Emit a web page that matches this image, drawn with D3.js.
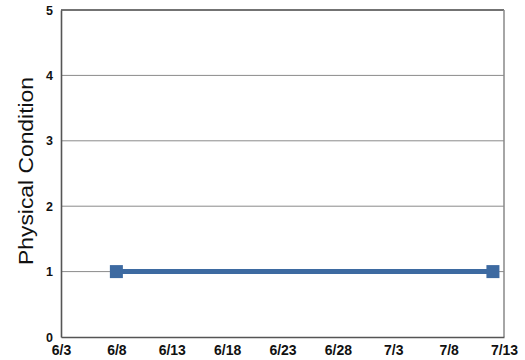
<!DOCTYPE html>
<html><head><meta charset="utf-8">
<script src="https://cdn.jsdelivr.net/npm/d3@7"></script>
<style>body{margin:0;background:#fff;}svg{display:block;}</style>
</head><body>
<script>
const dates = ["6/8", "7/12"];
const values = [1, 1];
const xTickLabels = ["6/3","6/8","6/13","6/18","6/23","6/28","7/3","7/8","7/13"];
const yTicks = [0,1,2,3,4,5];
const yLabel = "Physical Condition";

const W = 525, H = 360;
const m = {left: 61, right: 21, top: 10, bottom: 23};
const parse = s => d3.timeParse("%Y/%m/%d")("2000/" + s);

const svg = d3.select("body").append("svg").attr("width", W).attr("height", H);
const x = d3.scaleTime().domain([parse("6/3"), parse("7/13")]).range([m.left, W - m.right]);
const y = d3.scaleLinear().domain([0, 5]).range([H - m.bottom, m.top]);

// gridlines
svg.append("g").selectAll("line").data(yTicks.filter(v => v > 0 && v < 5)).join("line")
  .attr("x1", m.left).attr("x2", W - m.right)
  .attr("y1", d => y(d)).attr("y2", d => y(d))
  .attr("stroke", "#8a8a8a").attr("stroke-width", 1);

// frame
svg.append("line").attr("x1", m.left).attr("x2", W - m.right).attr("y1", y(5)).attr("y2", y(5))
  .attr("stroke", "#444").attr("stroke-width", 1.5);
svg.append("line").attr("x1", W - m.right).attr("x2", W - m.right).attr("y1", y(5)).attr("y2", y(0))
  .attr("stroke", "#888").attr("stroke-width", 1.5);

// axes
const yAxis = svg.append("g").attr("transform", `translate(${m.left},0)`)
  .call(d3.axisLeft(y).tickValues(yTicks).tickSize(0).tickPadding(8).tickFormat(d3.format("d")));
const xAxis = svg.append("g").attr("transform", `translate(0,${y(0)})`)
  .call(d3.axisBottom(x).tickValues(xTickLabels.map(parse)).tickSize(0).tickPadding(8)
    .tickFormat((d, i) => xTickLabels[i]));
[yAxis, xAxis].forEach(g => {
  g.select(".domain").attr("stroke", "#555").attr("stroke-width", 1.6);
  g.selectAll("text").attr("font-family", "Liberation Sans, Arial, sans-serif")
    .attr("font-weight", "bold").attr("fill", "#111");
});
yAxis.selectAll("text").attr("font-size", 12.5);
xAxis.selectAll("text").attr("font-size", 14);

// y label
svg.append("text").attr("transform", `translate(33,171) rotate(-90)`)
  .attr("text-anchor", "middle").attr("font-family", "Liberation Sans, Arial, sans-serif")
  .attr("font-size", 21).attr("fill", "#111")
  .attr("textLength", 188).attr("lengthAdjust", "spacingAndGlyphs").text(yLabel);

// series
const pts = dates.map((d, i) => ({d: parse(d), v: values[i]}));
svg.append("path").datum(pts)
  .attr("d", d3.line().x(p => x(p.d)).y(p => y(p.v)))
  .attr("fill", "none").attr("stroke", "#3d6aa1").attr("stroke-width", 5);
svg.append("g").selectAll("rect").data(pts).join("rect")
  .attr("x", p => x(p.d) - 6.5).attr("y", p => y(p.v) - 6.5)
  .attr("width", 13).attr("height", 13).attr("fill", "#3d6aa1");
</script>
</body></html>
